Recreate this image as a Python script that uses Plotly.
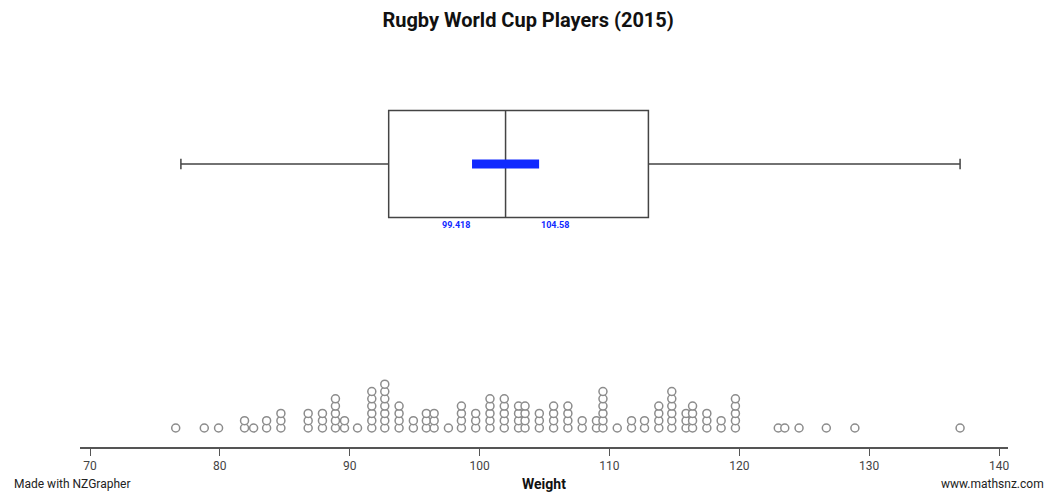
import plotly.graph_objects as go

# ---- data ----
weights = [76.6, 78.8, 79.9, 81.9, 82.6, 83.6, 84.7, 86.8, 87.9, 88.9, 89.6, 90.6,
           91.7, 92.7, 93.8, 94.9, 95.9, 96.5, 97.6, 98.6, 99.7, 100.8, 101.9, 103.0,
           103.5, 104.6, 105.7, 106.8, 107.9, 109.0, 109.5, 110.6, 111.7, 112.7, 113.8,
           114.8, 115.9, 116.4, 117.5, 118.6, 119.7, 123.0, 123.5, 124.6, 126.7, 128.9, 137.0]
counts = [1, 1, 1, 2, 1, 2, 3, 3, 3, 5, 2, 1,
          6, 7, 4, 2, 3, 3, 1, 4, 3, 5, 5, 4,
          4, 3, 4, 4, 2, 2, 6, 1, 2, 2, 4,
          6, 3, 4, 3, 2, 5, 1, 1, 1, 1, 1, 1]
box_min, box_q1, box_median, box_q3, box_max = 77, 93, 102, 113, 137
tick_vals = [70, 80, 90, 100, 110, 120, 130, 140]
title_text = "Rugby World Cup Players (2015)"
x_title = "Weight"

FONT = "Roboto, Arial, sans-serif"

n = sum(counts)
iqr = box_q3 - box_q1
ci_half = 1.5 * iqr / n ** 0.5
ci_lo, ci_hi = box_median - ci_half, box_median + ci_half

# stack dots
dot_x, dot_y = [], []
base, step = 19, 7.3
for w, c in zip(weights, counts):
    for k in range(c):
        dot_x.append(w)
        dot_y.append(base + step * k)

box_y = 283
fig = go.Figure()
fig.add_trace(go.Box(
    orientation="h", y=[box_y], q1=[box_q1], median=[box_median], q3=[box_q3],
    lowerfence=[box_min], upperfence=[box_max], width=107, whiskerwidth=0.1,
    fillcolor="white", line=dict(color="#444444", width=1.5), boxpoints=False,
    hoverinfo="skip", showlegend=False))
fig.add_trace(go.Scatter(
    x=[ci_lo, ci_hi], y=[box_y, box_y], mode="lines",
    line=dict(color="#1029ff", width=9), showlegend=False, hoverinfo="skip"))
fig.add_trace(go.Scatter(
    x=dot_x, y=dot_y, mode="markers",
    marker=dict(symbol="circle", size=8, color="white",
                line=dict(color="#8c8c8c", width=1.5)),
    showlegend=False))

lab_font = dict(family=FONT, size=9, color="#1029ff")
fig.add_annotation(x=ci_lo, y=222, text=f"<b>{ci_lo:.5g}</b>", showarrow=False,
                   xanchor="right", yanchor="middle", font=lab_font)
fig.add_annotation(x=ci_hi, y=222, text=f"<b>{ci_hi:.5g}</b>", showarrow=False,
                   xanchor="left", yanchor="middle", font=lab_font)

bot_font = dict(family=FONT, size=12, color="#222")
fig.add_annotation(xref="paper", yref="paper", x=0.5, y=0, yshift=-37,
                   text=f"<b>{x_title}</b>", showarrow=False, font=dict(family=FONT, size=14, color="#111"),
                   xanchor="center", yanchor="middle")
fig.add_annotation(xref="paper", yref="paper", x=-0.073, y=0, yshift=-37,
                   text="Made with NZGrapher", showarrow=False, font=bot_font,
                   xanchor="left", yanchor="middle")
fig.add_annotation(xref="paper", yref="paper", x=1.0414, y=0, yshift=-37,
                   text="www.mathsnz.com", showarrow=False, font=bot_font,
                   xanchor="right", yanchor="middle")

fig.update_layout(
    width=1051, height=493,
    margin=dict(l=80, r=43, t=0, b=46),
    paper_bgcolor="white", plot_bgcolor="white",
    title=dict(text=f"<b>{title_text}</b>", x=0.5025, xanchor="center",
               y=1 - 20 / 493, yanchor="middle", yref="container",
               font=dict(family=FONT, size=20, color="#111")),
    xaxis=dict(range=[69.23, 140.69], tickvals=tick_vals, showgrid=False, zeroline=False,
               showline=True, linecolor="#555", linewidth=2, ticks="outside",
               ticklen=7, tickcolor="#555", tickwidth=1,
               tickfont=dict(family=FONT, size=12, color="#444")),
    yaxis=dict(range=[0, 447], visible=False, showgrid=False, zeroline=False),
)

fig.write_html("out.html", config={"displayModeBar": False},
               post_script="document.body.style.margin='0';")
